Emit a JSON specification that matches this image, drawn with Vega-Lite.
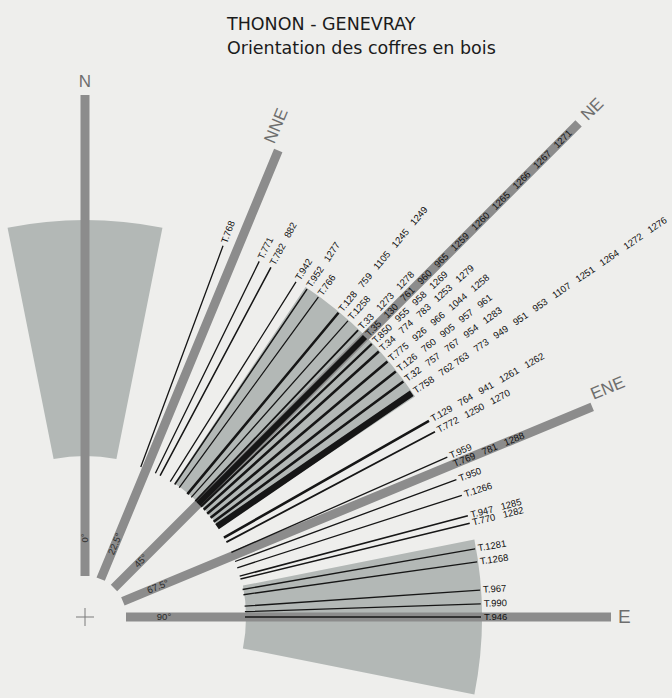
{
  "$schema": "https://vega.github.io/schema/vega-lite/v6.json",
  "width": 170,
  "height": 162,
  "autosize": "none",
  "padding": {"top": 536, "left": 0, "right": 502, "bottom": 0},
  "background": "#eeeeec",
  "config": {"view": {"stroke": null}, "text": {"font": "Liberation Sans"}},
  "title": {
    "text": ["THONON - GENEVRAY", "Orientation des coffres en bois"],
    "anchor": "start",
    "frame": "group",
    "orient": "top",
    "font": "DejaVu Sans",
    "fontSize": 17.5,
    "fontWeight": "normal",
    "color": "#1b1b1b",
    "lineHeight": 24,
    "baseline": "bottom",
    "offset": 0,
    "dx": 227,
    "dy": 2
  },
  "datasets": {
    "secteurs": [
      {"debut": -11.25, "fin": 11.25},
      {"debut": 33.75, "fin": 56.25},
      {"debut": 78.75, "fin": 101.25}
    ],
    "axes": [
      {"nom": "N", "theta": 0, "deg": "0°"},
      {"nom": "NNE", "theta": 22.5, "deg": "22.5°"},
      {"nom": "NE", "theta": 45, "deg": "45°"},
      {"nom": "ENE", "theta": 67.5, "deg": "67.5°"},
      {"nom": "E", "theta": 90, "deg": "90°"}
    ],
    "coffres": [
      {"theta": 20.4, "n": 1, "label": "T.768"},
      {"theta": 26.1, "n": 1, "label": "T.771"},
      {"theta": 28.0, "n": 2, "label": "T.782\u00a0\u00a0\u00a0882"},
      {"theta": 32.2, "n": 1, "label": "T.942"},
      {"theta": 34.1, "n": 2, "label": "T.952\u00a0\u00a0\u00a01277"},
      {"theta": 36.1, "n": 1, "label": "T.766"},
      {"theta": 39.8, "n": 5, "label": "T.128\u00a0\u00a0\u00a0759\u00a0\u00a0\u00a01105\u00a0\u00a0\u00a01245\u00a0\u00a0\u00a01249"},
      {"theta": 41.6, "n": 1, "label": "T.1258"},
      {"theta": 43.6, "n": 3, "label": "T.33\u00a0\u00a0\u00a01273\u00a0\u00a0\u00a01278"},
      {"theta": 45.0, "n": 11, "label": "T.35\u00a0\u00a0\u00a0130\u00a0\u00a0\u00a0761\u00a0\u00a0\u00a0960\u00a0\u00a0\u00a0965\u00a0\u00a0\u00a01259\u00a0\u00a0\u00a01260\u00a0\u00a0\u00a01265\u00a0\u00a0\u00a01266\u00a0\u00a0\u00a01267\u00a0\u00a0\u00a01271"},
      {"theta": 46.4, "n": 4, "label": "T.850\u00a0\u00a0\u00a0955\u00a0\u00a0\u00a0958\u00a0\u00a0\u00a01269"},
      {"theta": 47.9, "n": 5, "label": "T.34\u00a0\u00a0\u00a0774\u00a0\u00a0\u00a0783\u00a0\u00a0\u00a01253\u00a0\u00a0\u00a01279"},
      {"theta": 49.8, "n": 5, "label": "T.775\u00a0\u00a0\u00a0926\u00a0\u00a0\u00a0966\u00a0\u00a0\u00a01044\u00a0\u00a0\u00a01258"},
      {"theta": 51.7, "n": 5, "label": "T.126\u00a0\u00a0\u00a0760\u00a0\u00a0\u00a0905\u00a0\u00a0\u00a0957\u00a0\u00a0\u00a0961"},
      {"theta": 53.5, "n": 5, "label": "T.32\u00a0\u00a0\u00a0757\u00a0\u00a0\u00a0767\u00a0\u00a0\u00a0954\u00a0\u00a0\u00a01283"},
      {"theta": 55.6, "n": 12, "label": "T.758\u00a0\u00a0\u00a0762\u00a0763\u00a0\u00a0\u00a0773\u00a0\u00a0\u00a0949\u00a0\u00a0\u00a0951\u00a0\u00a0\u00a0953\u00a0\u00a0\u00a01107\u00a0\u00a0\u00a01251\u00a0\u00a0\u00a01264\u00a0\u00a0\u00a01272\u00a0\u00a0\u00a01276"},
      {"theta": 60.3, "n": 5, "label": "T.129\u00a0\u00a0\u00a0764\u00a0\u00a0\u00a0941\u00a0\u00a0\u00a01261\u00a0\u00a0\u00a01262"},
      {"theta": 62.1, "n": 3, "label": "T.772\u00a0\u00a0\u00a01250\u00a0\u00a0\u00a01270"},
      {"theta": 66.2, "n": 1, "label": "T.959"},
      {"theta": 67.5, "n": 3, "label": "T.769\u00a0\u00a0\u00a0781\u00a0\u00a0\u00a01288"},
      {"theta": 69.7, "n": 1, "label": "T.950"},
      {"theta": 72.1, "n": 1, "label": "T.1266"},
      {"theta": 75.2, "n": 2, "label": "T.947\u00a0\u00a0\u00a01285"},
      {"theta": 76.3, "n": 2, "label": "T.770\u00a0\u00a0\u00a01282"},
      {"theta": 80.1, "n": 1, "label": "T.1281"},
      {"theta": 82.0, "n": 1, "label": "T.1268"},
      {"theta": 86.1, "n": 1, "label": "T.967"},
      {"theta": 88.1, "n": 1, "label": "T.990"},
      {"theta": 90.0, "n": 1, "label": "T.946"}
    ]
  },
  "layer": [
    {
      "data": {"name": "secteurs"},
      "mark": {"type": "arc", "radius": 397, "radius2": 161, "color": "#b3b8b6"},
      "encoding": {
        "theta": {"field": "debut", "type": "quantitative", "stack": null, "scale": {"domain": [0, 360], "range": [0, 6.283185307179586]}},
        "theta2": {"field": "fin"}
      }
    },
    {
      "data": {"name": "axes"},
      "mark": {"type": "arc", "filled": false, "stroke": "#8c8c8c", "strokeWidth": 9, "strokeJoin": "bevel", "radius2": 41},
      "encoding": {
        "theta": {"field": "theta", "type": "quantitative", "stack": null, "scale": {"domain": [0, 360], "range": [0, 6.283185307179586]}},
        "theta2": {"field": "theta"},
        "radius": {"field": "theta", "type": "quantitative", "scale": {"type": "linear", "domain": [0, 22.5, 45, 67.5, 90], "range": [522, 505, 698, 549, 526], "zero": false, "nice": false}}
      }
    },
    {
      "data": {"name": "coffres"},
      "transform": [{"filter": "datum.theta != 67.5"}],
      "mark": {"type": "arc", "filled": false, "stroke": "#161616", "strokeJoin": "bevel", "radius": 396, "radius2": 160},
      "encoding": {
        "theta": {"field": "theta", "type": "quantitative", "stack": null, "scale": {"domain": [0, 360], "range": [0, 6.283185307179586]}},
        "theta2": {"field": "theta"},
        "strokeWidth": {"field": "n", "type": "quantitative", "scale": {"type": "pow", "exponent": 1.5, "domain": [1, 12], "range": [1.3, 6.5], "zero": false}, "legend": null}
      }
    },
    {
      "data": {"name": "coffres"},
      "mark": {"type": "text", "radius": 399, "align": "left", "baseline": "middle", "fontSize": 9.5, "color": "#111111"},
      "encoding": {
        "theta": {"field": "theta", "type": "quantitative", "stack": null, "scale": {"domain": [0, 360], "range": [0, 6.283185307179586]}},
        "angle": {"field": "theta", "type": "quantitative", "scale": {"domain": [0, 360], "range": [-90, 270]}},
        "text": {"field": "label"}
      }
    },
    {
      "data": {"name": "axes"},
      "mark": {"type": "text", "radius": 79, "align": "center", "baseline": "middle", "fontSize": 9.5, "color": "#2a2a2a"},
      "encoding": {
        "theta": {"field": "theta", "type": "quantitative", "stack": null, "scale": {"domain": [0, 360], "range": [0, 6.283185307179586]}},
        "angle": {"field": "theta", "type": "quantitative", "scale": {"domain": [0, 360], "range": [-90, 270]}},
        "text": {"field": "deg"}
      }
    },
    {
      "data": {"name": "axes"},
      "transform": [{"filter": "datum.nom == 'NE'"}],
      "mark": {"type": "text", "radiusOffset": 8, "align": "left", "baseline": "middle", "fontSize": 17, "color": "#6e6e6e"},
      "encoding": {
        "theta": {"field": "theta", "type": "quantitative", "stack": null, "scale": {"domain": [0, 360], "range": [0, 6.283185307179586]}},
        "radius": {"field": "theta", "type": "quantitative", "scale": {"type": "linear", "domain": [0, 22.5, 45, 67.5, 90], "range": [522, 505, 698, 549, 526], "zero": false, "nice": false}},
        "angle": {"field": "theta", "type": "quantitative", "scale": {"domain": [0, 360], "range": [-90, 270]}},
        "text": {"field": "nom"}
      }
    },
    {
      "data": {"name": "axes"},
      "transform": [{"filter": "datum.nom == 'NNE' || datum.nom == 'ENE'"}],
      "mark": {"type": "text", "radiusOffset": 4, "align": "left", "baseline": "bottom", "dy": -2, "fontSize": 17, "color": "#6e6e6e"},
      "encoding": {
        "theta": {"field": "theta", "type": "quantitative", "stack": null, "scale": {"domain": [0, 360], "range": [0, 6.283185307179586]}},
        "radius": {"field": "theta", "type": "quantitative", "scale": {"type": "linear", "domain": [0, 22.5, 45, 67.5, 90], "range": [522, 505, 698, 549, 526], "zero": false, "nice": false}},
        "angle": {"field": "theta", "type": "quantitative", "scale": {"domain": [0, 360], "range": [-90, 270]}},
        "text": {"field": "nom"}
      }
    },
    {
      "data": {"name": "axes"},
      "transform": [{"filter": "datum.nom == 'N'"}],
      "mark": {"type": "text", "radiusOffset": 13, "align": "center", "baseline": "middle", "fontSize": 17, "color": "#6e6e6e"},
      "encoding": {
        "theta": {"field": "theta", "type": "quantitative", "stack": null, "scale": {"domain": [0, 360], "range": [0, 6.283185307179586]}},
        "radius": {"field": "theta", "type": "quantitative", "scale": {"type": "linear", "domain": [0, 22.5, 45, 67.5, 90], "range": [522, 505, 698, 549, 526], "zero": false, "nice": false}},
        "text": {"field": "nom"}
      }
    },
    {
      "data": {"name": "axes"},
      "transform": [{"filter": "datum.nom == 'E'"}],
      "mark": {"type": "text", "radiusOffset": 7, "align": "left", "baseline": "middle", "fontSize": 19, "color": "#6e6e6e"},
      "encoding": {
        "theta": {"field": "theta", "type": "quantitative", "stack": null, "scale": {"domain": [0, 360], "range": [0, 6.283185307179586]}},
        "radius": {"field": "theta", "type": "quantitative", "scale": {"type": "linear", "domain": [0, 22.5, 45, 67.5, 90], "range": [522, 505, 698, 549, 526], "zero": false, "nice": false}},
        "text": {"field": "nom"}
      }
    },
    {
      "data": {"values": [{"centre": "origine"}]},
      "mark": {"type": "point", "shape": "M-1,0L1,0M0,-1L0,1", "filled": false, "size": 324, "stroke": "#7a7a7a", "strokeWidth": 1, "opacity": 1, "x": {"expr": "width/2"}, "y": {"expr": "height/2"}},
      "encoding": {}
    }
  ]
}
